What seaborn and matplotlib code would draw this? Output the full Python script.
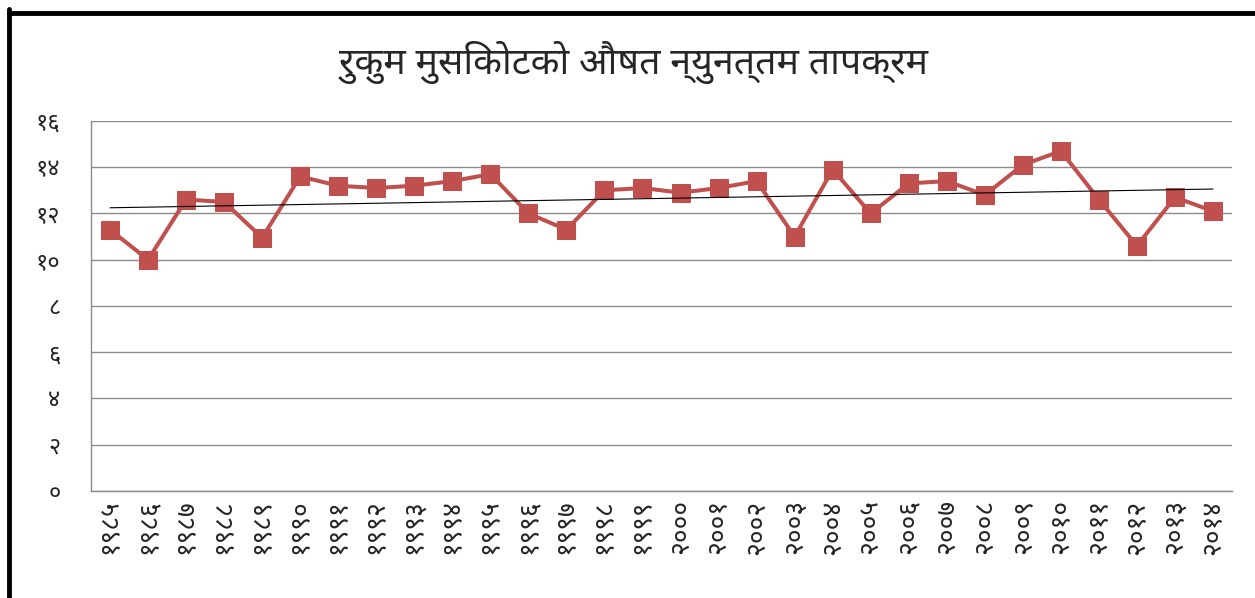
import numpy as np
import pandas as pd
import seaborn as sns
import matplotlib.pyplot as plt
from matplotlib import font_manager
from matplotlib.lines import Line2D

TITLE = 'रुकुम मुसिकोटको औषत न्युनत्तम तापक्रम'
YEARS = ['१९८५', '१९८६', '१९८७', '१९८८', '१९८९', '१९९०', '१९९१', '१९९२', '१९९३', '१९९४',
         '१९९५', '१९९६', '१९९७', '१९९८', '१९९९', '२०००', '२००१', '२००२', '२००३', '२००४',
         '२००५', '२००६', '२००७', '२००८', '२००९', '२०१०', '२०११', '२०१२', '२०१३', '२०१४']
MIN_TEMP = [11.3, 10.0, 12.6, 12.5, 10.95, 13.6, 13.2, 13.1, 13.2, 13.4,
            13.7, 12.0, 11.3, 13.0, 13.1, 12.9, 13.1, 13.4, 11.0, 13.9,
            12.0, 13.3, 13.4, 12.8, 14.1, 14.7, 12.6, 10.6, 12.7, 12.1]
Y_TICKS = [0, 2, 4, 6, 8, 10, 12, 14, 16]
Y_LABELS = ['०', '२', '४', '६', '८', '१०', '१२', '१४', '१६']

PREFERRED = ['Noto Sans Devanagari', 'Hind', 'Mukta', 'Poppins', 'Tiro Devanagari Hindi',
             'Noto Serif Devanagari', 'Annapurna SIL', 'Arya']

sns.set_style('white')
installed = {f.name for f in font_manager.fontManager.ttflist}
deva = [n for n in PREFERRED if n in installed][:1]
plt.rcParams['font.family'] = deva + ['DejaVu Sans']

df = pd.DataFrame({'pos': np.arange(len(YEARS)), 'temp': MIN_TEMP})

fig = plt.figure(figsize=(12.55, 5.98), dpi=100)
ax = fig.add_axes([0.0725, 0.179, 0.9092, 0.6187])

red = '#C0504D'
sns.lineplot(data=df, x='pos', y='temp', ax=ax, color=red, linewidth=2.9,
             marker='s', markersize=13.5, markeredgecolor=red, zorder=3)
sns.regplot(data=df, x='pos', y='temp', ax=ax, scatter=False, ci=None,
            line_kws={'color': 'black', 'linewidth': 0.8, 'zorder': 4})

ax.set_xlim(-0.5, len(YEARS) - 0.5)
ax.set_ylim(0, 16)
ax.set_yticks(Y_TICKS)
ax.set_yticklabels(Y_LABELS, fontsize=17)
ax.set_xticks(df['pos'])
ax.set_xticklabels(YEARS, rotation=90, fontsize=19)
ax.set_xticks(np.arange(-0.5, len(YEARS)), minor=True)
ax.tick_params(axis='x', which='major', length=0, pad=6)
ax.tick_params(axis='x', which='minor', length=8, color='#888888', width=1)
ax.tick_params(axis='y', length=10, color='#888888', width=1, pad=12)
ax.set_xlabel('')
ax.set_ylabel('')
ax.grid(axis='y', color='#8c8c8c', linewidth=1)
ax.set_axisbelow(True)
for s in ['top', 'right']:
    ax.spines[s].set_visible(False)
for s in ['left', 'bottom']:
    ax.spines[s].set_color('#8c8c8c')
    ax.spines[s].set_linewidth(1)

fig.text(0.505, 0.895, TITLE, ha='center', va='center', fontsize=27, fontweight='medium')

# frame of the screenshot
fig.add_artist(Line2D([0.0075, 0.0075], [0, 0.985], color='black', linewidth=3.5,
                      transform=fig.transFigure))
fig.add_artist(Line2D([0.0075, 1], [0.978, 0.978], color='black', linewidth=3.5,
                      transform=fig.transFigure))

fig.savefig('out.png', dpi=100)
